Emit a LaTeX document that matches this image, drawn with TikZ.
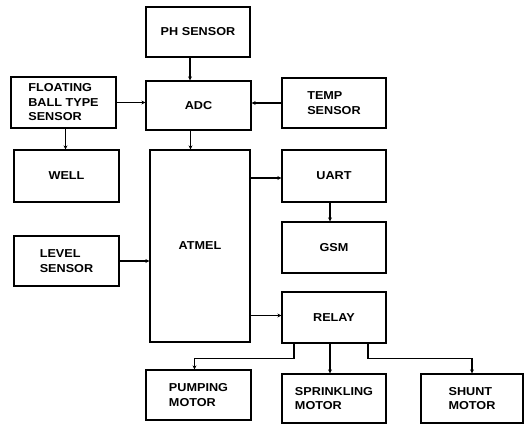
\documentclass[tikz,border=0pt]{standalone}
\usepackage{fontspec}
\setmainfont{Liberation Sans}[FakeStretch=1.1]
\usetikzlibrary{arrows.meta}

\begin{document}
\begin{tikzpicture}[x=1pt, y=-1pt,
  blk/.style={rectangle, draw=black, line width=1.2pt, fill=white, align=left,
              font=\fontsize{11.5}{14.5}\selectfont\bfseries, inner sep=2pt},
  arr/.style={draw=black, line width=1.2pt, -{Stealth[length=4pt, width=4pt]}},
]
\useasboundingbox (0,0) rectangle (524,423);
% sensors and converter
\node[blk, minimum width=104pt, minimum height=50pt] (ph) at (198,32) {PH SENSOR};
\node[blk, minimum width=105pt, minimum height=49pt] (adc) at (198.5,105.5) {ADC};
\node[blk, minimum width=105pt, minimum height=51pt] (float) at (63.5,102.5) {FLOATING\\BALL TYPE\\SENSOR};
\node[blk, minimum width=104pt, minimum height=50pt] (temp) at (334,103) {TEMP\\SENSOR};
\node[blk, minimum width=105pt, minimum height=52pt] (well) at (66.5,176) {WELL};
\node[blk, minimum width=105pt, minimum height=50pt] (level) at (66.5,261) {LEVEL\\SENSOR};
% controller and outputs
\node[blk, minimum width=100pt, minimum height=192pt] (atmel) at (200,246) {ATMEL};
\node[blk, minimum width=104pt, minimum height=52pt] (uart) at (334,176) {UART};
\node[blk, minimum width=104pt, minimum height=51pt] (gsm) at (334,247.5) {GSM};
\node[blk, minimum width=104pt, minimum height=51pt] (relay) at (334,317.5) {RELAY};
% motors
\node[blk, minimum width=105pt, minimum height=50pt] (pump) at (198.5,395) {PUMPING\\MOTOR};
\node[blk, minimum width=104pt, minimum height=49pt] (sprink) at (334,398.5) {SPRINKLING\\MOTOR};
\node[blk, minimum width=102pt, minimum height=49pt] (shunt) at (472,398.5) {SHUNT\\MOTOR};
% inputs into ADC
\draw[arr] ([xshift=-8pt]ph.south) -- ([xshift=-8pt]ph.south |- adc.north);
\draw[arr] (float.east) -- (float.east -| adc.west);
\draw[arr] (temp.west) -- (temp.west -| adc.east);
\draw[arr] ([xshift=2pt]float.south) -- ([xshift=2pt]float.south |- well.north);
\draw[arr] ([xshift=-8pt]adc.south) -- ([xshift=-8pt]adc.south |- atmel.north);
\draw[arr] (level.east) -- (level.east -| atmel.west);
% controller outputs
\draw[arr] ([yshift=-2pt]uart.west -| atmel.east) -- ([yshift=-2pt]uart.west);
\draw[arr] ([xshift=-4pt]uart.south) -- ([xshift=-4pt]uart.south |- gsm.north);
\draw[arr] ([yshift=2pt]relay.west -| atmel.east) -- ([yshift=2pt]relay.west);
% relay to motors
\draw[arr] ([xshift=-40pt]relay.south) -- ++(0,15) -| ([xshift=-4pt]pump.north);
\draw[arr] ([xshift=-4pt]relay.south) -- ([xshift=-4pt]relay.south |- sprink.north);
\draw[arr] ([xshift=34pt]relay.south) -- ++(0,15) -| (shunt.north);
\end{tikzpicture}
\end{document}
